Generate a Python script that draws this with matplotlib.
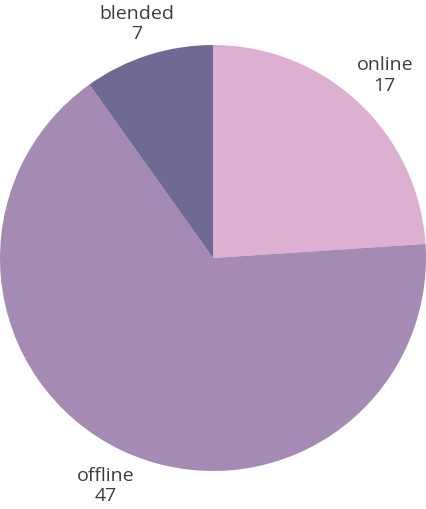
import matplotlib
matplotlib.use("Agg")
import matplotlib.pyplot as plt

plt.rcParams['font.family'] = ['Open Sans', 'DejaVu Sans']

# data
categories = ['online', 'offline', 'blended']
counts = [17, 47, 7]
colors = ['#DDAFD0', '#A58BB3', '#6F6A93']

fig = plt.figure(figsize=(4.26, 5.10), dpi=100)
ax = fig.add_axes([0, 38 / 510, 1, 426 / 510])

labels = [f'{c}\n{n}' for c, n in zip(categories, counts)]
wedges, texts = ax.pie(counts, labels=labels, colors=colors, startangle=90,
                       counterclock=False, labeldistance=1.18,
                       wedgeprops={'linewidth': 0},
                       textprops={'fontsize': 14, 'color': '#3d3d3d',
                                  'linespacing': 1.15})
for t in texts:
    t.set_ha('center')
    t.set_va('center')
# keep the top label inside the figure
x, y = texts[2].get_position()
texts[2].set_position((x, y - 0.02))

ax.set_xlim(-1, 1)
ax.set_ylim(-1, 1)
ax.set_aspect('equal')

fig.savefig('out.png', dpi=100)
